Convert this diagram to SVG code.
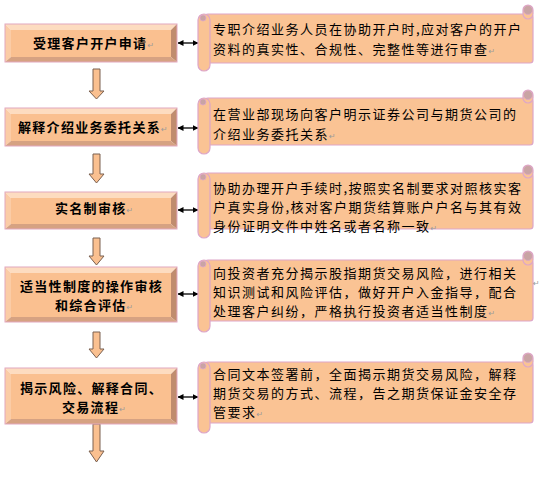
<svg xmlns="http://www.w3.org/2000/svg" width="539" height="492" viewBox="0 0 539 492">
<style>
.bg{fill:#ffffff}
.face{fill:#FAC090}
.bt{fill:#FDDCC0}
.bl{fill:#FBCCA6}
.br{fill:#C08C6E}
.bb{fill:#D6A282}
.edge{fill:none;stroke:#E2A8BE;stroke-width:1}
.scr{fill:#FAC394;stroke:#DDA6C8;stroke-width:1.2}
.curl{fill:#C9A4A4;stroke:#DDA6C8;stroke-width:0.8}
.darr{fill:#FAC090;stroke:#7A6050;stroke-width:1}
.conn{stroke:#000;stroke-width:1.3;fill:none;marker-start:url(#ah);marker-end:url(#ah)}
.t{font-family:"Noto Sans CJK SC","Noto Sans CJK JP",sans-serif;font-size:13px;letter-spacing:1.5px;fill:#000}
.b{font-family:"Noto Sans CJK SC","Noto Sans CJK JP",sans-serif;font-size:13px;letter-spacing:1.3px;font-weight:bold;fill:#000}
.pm{font-family:"DejaVu Sans",sans-serif;font-size:8px;letter-spacing:0;fill:#9a9a9a;font-weight:normal}
</style>
<defs>
<marker id="ah" viewBox="0 0 6 6" refX="5.5" refY="3" markerWidth="6" markerHeight="6" markerUnits="userSpaceOnUse" orient="auto-start-reverse">
<path d="M0,0 L6,3 L0,6 z" fill="#000"/>
</marker>
</defs>
<rect class="bg" x="0" y="0" width="539" height="492"/>

<!-- connectors -->
<g id="connectors">
<path class="darr" d="M93,69 H100 V91 H104 L96.5,99 L89,91 H93 Z"/>
<path class="darr" d="M93,154 H100 V174 H104 L96.5,183 L89,174 H93 Z"/>
<path class="darr" d="M93,238 H100 V256 H104 L96.5,265 L89,256 H93 Z"/>
<path class="darr" d="M93,332 H100 V349 H104 L96.5,358 L89,349 H93 Z"/>
<path class="darr" d="M93,424 H100 V451 H104 L96.5,462 L89,451 H93 Z"/>
<line class="conn" x1="178" y1="43" x2="198" y2="43"/>
<line class="conn" x1="178" y1="128" x2="198" y2="128"/>
<line class="conn" x1="178" y1="210" x2="198" y2="210"/>
<line class="conn" x1="178" y1="294" x2="198" y2="294"/>
<line class="conn" x1="178" y1="397" x2="198" y2="397"/>
</g>

<!-- left boxes -->
<g id="box1">
<polygon class="bt" points="5,24 177,24 171,30 11,30"/>
<polygon class="bl" points="5,24 11,30 11,57 5,62"/>
<polygon class="br" points="177,24 177,62 171,57 171,30"/>
<polygon class="bb" points="5,62 11,57 171,57 177,62"/>
<rect class="face" x="11" y="30" width="160" height="27"/>
<rect class="edge" x="5" y="24" width="172" height="38"/>
<text class="b" x="33" y="47.5">受理客户开户申请<tspan class="pm">↵</tspan></text>
</g>
<g id="box2">
<polygon class="bt" points="5,108 177,108 171,114 11,114"/>
<polygon class="bl" points="5,108 11,114 11,141 5,146"/>
<polygon class="br" points="177,108 177,146 171,141 171,114"/>
<polygon class="bb" points="5,146 11,141 171,141 177,146"/>
<rect class="face" x="11" y="114" width="160" height="27"/>
<rect class="edge" x="5" y="108" width="172" height="38"/>
<text class="b" x="18" y="131.5">解释介绍业务委托关系<tspan class="pm">↵</tspan></text>
</g>
<g id="box3">
<polygon class="bt" points="5,192 177,192 171,198 11,198"/>
<polygon class="bl" points="5,192 11,198 11,224 5,229"/>
<polygon class="br" points="177,192 177,229 171,224 171,198"/>
<polygon class="bb" points="5,229 11,224 171,224 177,229"/>
<rect class="face" x="11" y="198" width="160" height="26"/>
<rect class="edge" x="5" y="192" width="172" height="37"/>
<text class="b" x="55" y="213">实名制审核<tspan class="pm">↵</tspan></text>
</g>
<g id="box4">
<polygon class="bt" points="5,267 177,267 171,273 11,273"/>
<polygon class="bl" points="5,267 11,273 11,317 5,322"/>
<polygon class="br" points="177,267 177,322 171,317 171,273"/>
<polygon class="bb" points="5,322 11,317 171,317 177,322"/>
<rect class="face" x="11" y="273" width="160" height="44"/>
<rect class="edge" x="5" y="267" width="172" height="55"/>
<text class="b"><tspan x="20" y="290.5">适当性制度的操作审核</tspan><tspan x="55" y="309.5">和综合评估</tspan><tspan class="pm">↵</tspan></text>
</g>
<g id="box5">
<polygon class="bt" points="5,368 177,368 171,374 11,374"/>
<polygon class="bl" points="5,368 11,374 11,419 5,424"/>
<polygon class="br" points="177,368 177,424 171,419 171,374"/>
<polygon class="bb" points="5,424 11,419 171,419 177,424"/>
<rect class="face" x="11" y="374" width="160" height="45"/>
<rect class="edge" x="5" y="368" width="172" height="56"/>
<text class="b"><tspan x="20" y="393">揭示风险、解释合同、</tspan><tspan x="62" y="412">交易流程</tspan><tspan class="pm">↵</tspan></text>
</g>

<!-- scrolls -->
<g id="note1">
<rect class="scr" x="205" y="14" width="328" height="49" rx="3"/>
<rect class="scr" x="198" y="14" width="12" height="57" rx="6"/>
<circle class="curl" cx="203" cy="18" r="3"/>
<rect class="scr" x="523" y="5" width="10" height="14" rx="5"/>
<circle class="curl" cx="528" cy="10" r="4.5"/>
<text class="t"><tspan x="213" y="33.5">专职介绍业务人员在协助开户时,应对客户的开户</tspan><tspan x="213" y="53.5">资料的真实性、合规性、完整性等进行审查</tspan><tspan class="pm">↵</tspan></text>
</g>
<g id="note2">
<rect class="scr" x="205" y="98" width="328" height="47" rx="3"/>
<rect class="scr" x="198" y="98" width="12" height="56" rx="6"/>
<circle class="curl" cx="203" cy="102" r="3"/>
<rect class="scr" x="523" y="90" width="10" height="13" rx="5"/>
<circle class="curl" cx="528" cy="95" r="4.5"/>
<text class="t"><tspan x="213" y="119">在营业部现场向客户明示证券公司与期货公司的</tspan><tspan x="213" y="138.5">介绍业务委托关系</tspan><tspan class="pm">↵</tspan></text>
</g>
<g id="note3">
<rect class="scr" x="205" y="173" width="328" height="56" rx="3"/>
<rect class="scr" x="198" y="173" width="12" height="65" rx="6"/>
<circle class="curl" cx="203" cy="177" r="3"/>
<rect class="scr" x="523" y="165" width="10" height="13" rx="5"/>
<circle class="curl" cx="528" cy="170" r="4.5"/>
<text class="t"><tspan x="213" y="193">协助办理开户手续时,按照实名制要求对照核实客</tspan><tspan x="213" y="212">户真实身份,核对客户期货结算账户户名与其有效</tspan><tspan x="213" y="231">身份证明文件中姓名或者名称一致</tspan><tspan class="pm">↵</tspan></text>
</g>
<g id="note4">
<rect class="scr" x="205" y="260" width="328" height="61" rx="3"/>
<rect class="scr" x="198" y="260" width="12" height="72" rx="6"/>
<circle class="curl" cx="203" cy="264" r="3"/>
<rect class="scr" x="523" y="251" width="10" height="14" rx="5"/>
<circle class="curl" cx="528" cy="256" r="4.5"/>
<text class="t"><tspan x="213" y="277.5">向投资者充分揭示股指期货交易风险，进行相关</tspan><tspan x="213" y="296.5">知识测试和风险评估，做好开户入金指导，配合</tspan><tspan x="213" y="315.5">处理客户纠纷，严格执行投资者适当性制度</tspan><tspan class="pm">↵</tspan></text>
<text class="pm" x="533" y="286">↵</text>
</g>
<g id="note5">
<rect class="scr" x="205" y="362" width="328" height="61" rx="3"/>
<rect class="scr" x="198" y="362" width="12" height="71" rx="6"/>
<circle class="curl" cx="203" cy="366" r="3"/>
<rect class="scr" x="523" y="353" width="10" height="14" rx="5"/>
<circle class="curl" cx="528" cy="358" r="4.5"/>
<text class="t"><tspan x="213" y="379">合同文本签署前，全面揭示期货交易风险，解释</tspan><tspan x="213" y="398">期货交易的方式、流程，告之期货保证金安全存</tspan><tspan x="213" y="417">管要求</tspan><tspan class="pm">↵</tspan></text>
</g>
</svg>
